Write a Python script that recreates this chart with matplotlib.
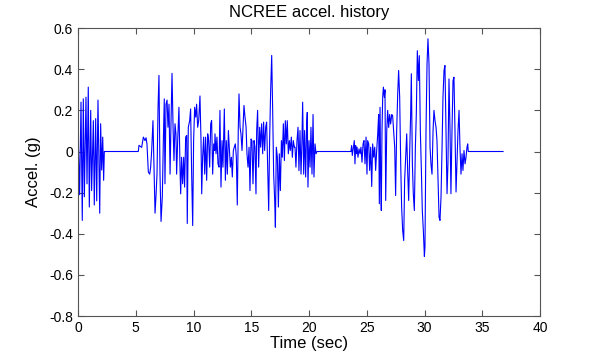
import numpy as np
import matplotlib.pyplot as plt

plt.rcParams['font.family'] = ['Liberation Sans', 'DejaVu Sans']

# first burst (0 - 2.3 s)
t1 = [0, 0.03, 0.14, 0.26, 0.37, 0.46, 0.55, 0.69, 0.78, 0.89, 0.98, 1.10, 1.18,
      1.33, 1.41, 1.53, 1.62, 1.73, 1.88, 1.96, 2.05, 2.14, 2.22, 2.28]
a1 = [0, 0.045, -0.21, 0.24, -0.335, 0.256, -0.22, 0.264, -0.157, 0.313, -0.27, 0.2, -0.19,
      0.15, -0.26, 0.16, -0.24, 0.25, -0.30, 0.135, -0.09, 0.07, -0.14, 0]

# second burst (5.2 - 20.7 s)
t2 = [5.22, 5.28, 5.51, 5.66, 5.80, 5.89, 5.97, 6.09, 6.21, 6.29, 6.38, 6.49, 6.67, 6.75,
      6.84, 6.93, 7.01, 7.10, 7.19, 7.30, 7.39, 7.47, 7.53, 7.62, 7.71, 7.79, 7.88, 7.97,
      8.05, 8.14, 8.23, 8.31, 8.40,
      8.48, 8.54, 8.63, 8.74, 8.83, 8.89, 8.97, 9.06, 9.15, 9.23, 9.32, 9.41, 9.46, 9.55,
      9.67, 9.75, 9.84, 9.93, 10.01, 10.10, 10.19, 10.27, 10.36, 10.45, 10.56, 10.65, 10.71,
      10.79, 10.88, 10.97, 11.05, 11.14, 11.23, 11.31, 11.40, 11.49, 11.57, 11.66, 11.75, 11.83,
      11.86, 11.95, 12.03, 12.12, 12.21, 12.29, 12.38, 12.47, 12.55, 12.67, 12.76, 12.84, 12.93,
      13.02, 13.10, 13.19, 13.28, 13.36, 13.45, 13.53, 13.62, 13.71, 13.79, 13.88, 13.94, 14.03,
      14.11, 14.20, 14.29, 14.37, 14.46, 14.55, 14.63, 14.72, 14.81, 14.89, 14.98, 15.06, 15.15,
      15.24, 15.32,
      15.41, 15.47, 15.55, 15.64, 15.73, 15.81, 15.90, 15.99, 16.07, 16.16, 16.25, 16.33, 16.42,
      16.51, 16.59, 16.68, 16.77, 16.85, 16.94, 17.03, 17.09, 17.17, 17.26, 17.35, 17.43, 17.52,
      17.61, 17.69, 17.78, 17.87, 17.95, 18.04, 18.12, 18.21, 18.30, 18.38, 18.47, 18.56, 18.64,
      18.73,
      18.79, 18.87, 18.96, 19.05, 19.13, 19.22, 19.31, 19.39, 19.45, 19.54, 19.62, 19.71, 19.80,
      19.85, 19.91, 20.00, 20.09, 20.17, 20.26, 20.35, 20.43, 20.52, 20.61, 20.69]
a2 = [0, 0.03, 0.02, 0.07, 0.053, 0.067, 0.037, -0.10, -0.11, -0.076, 0.005, 0.15, -0.30, -0.22,
      -0.11, 0.215, 0.37, -0.11, -0.34, -0.22, 0.053, 0.256, -0.157, 0.23, 0.25, 0.118, 0.23, -0.11,
      0.135, 0.38, 0.118, -0.044, 0.135,
      0.086, -0.11, 0.053, 0.215, -0.076, -0.206, -0.028, -0.157, -0.028, -0.173, 0.07, 0.078, -0.35, 0.118,
      0.15, 0.207, -0.11, -0.36, 0.053, 0.215, 0.167, 0.23, 0.118, 0.15, 0.27, 0.053, -0.206,
      -0.028, 0.07, -0.11, 0.07, -0.14, 0.086, 0.053, -0.076, 0.135, 0.15, -0.11, 0.037, 0.005,
      0.086, -0.011, 0.07, -0.06, -0.076, 0.2, -0.173, 0.053, -0.076, 0.207, -0.14, 0.053, -0.11,
      0.102, 0.021, -0.076, -0.028, -0.124, 0.005, 0.021, 0.037, -0.028, -0.26, 0.118, 0.28, 0.118,
      0.086, 0.005, 0.118, 0.224, 0.167, 0.12, -0.011, -0.076, 0.021, -0.19, 0.061, 0.053, -0.157,
      0.053, 0.021,
      -0.206, 0.102, 0.2, -0.076, 0.118, 0.021, 0.135, -0.011, 0.143, 0.005, 0.118, 0.143, -0.076,
      -0.287, 0.053, 0.297, 0.467, 0.215, -0.11, -0.238, -0.368, 0.021, -0.028, -0.27, -0.011, -0.19,
      0.053, -0.028, 0.135, -0.044, 0.15, 0.037, 0.15, -0.011, 0.053, 0.005, 0.07, -0.028, 0.053,
      0.021,
      0.021, -0.076, 0.053, 0.118, -0.093, 0.102, -0.11, 0.053, 0.24, -0.11, 0.102, -0.124, 0.135,
      0.19, -0.173, 0.053, -0.076, 0.118, -0.11, 0.18, -0.124, 0.037, -0.011, 0]

# third burst (23.6 - 33.8 s)
t3 = [23.63, 23.69, 23.75, 23.84, 23.92, 23.98, 24.04, 24.10, 24.16, 24.24, 24.33, 24.42, 24.50,
      24.59, 24.68, 24.76, 24.85, 24.94, 25.02, 25.08, 25.17, 25.25, 25.34, 25.43, 25.51, 25.60,
      25.69, 25.77, 25.86, 25.95, 26.03, 26.09, 26.15, 26.21, 26.26, 26.32, 26.38, 26.44, 26.52,
      26.58, 26.64, 26.73, 26.81, 26.90, 26.98, 27.07, 27.16, 27.24, 27.33, 27.42, 27.50, 27.59,
      27.68, 27.76, 27.85, 27.94, 28.02, 28.11, 28.20, 28.28, 28.37, 28.46, 28.54, 28.63, 28.72,
      28.80, 28.86, 28.95, 29.03, 29.12, 29.21, 29.29, 29.38, 29.47, 29.55, 29.64, 29.73, 29.81,
      29.90, 29.99,
      30.04, 30.13, 30.22, 30.30, 30.39, 30.48, 30.56, 30.65, 30.74, 30.82, 30.91, 31.00, 31.08,
      31.17, 31.26, 31.34, 31.43, 31.52, 31.60, 31.69, 31.77, 31.86, 31.95, 32.03, 32.12, 32.21,
      32.29, 32.38, 32.47, 32.55, 32.64, 32.73, 32.81, 32.90, 32.99, 33.07, 33.16, 33.25, 33.33,
      33.42, 33.51, 33.59, 33.68, 33.74, 33.79]
a3 = [0, 0.029, -0.019, 0.021, 0.053, -0.06, 0.029, -0.011, 0.021, -0.028, 0.013, -0.011, 0.021,
      -0.052, 0.037, 0.053, -0.06, 0.07, -0.11, 0.053, 0.037, -0.092, 0.021, -0.17, 0.037, -0.028,
      0.021, -0.092, 0.005, 0.086, 0.18, -0.254, 0.215, -0.141, -0.287, 0.10, 0.264, 0.313, 0.264,
      0.30, -0.238, 0.10, 0.2, 0.117, 0.18, 0.134, 0.18, 0.175, 0.10, 0.021, -0.214, 0.10,
      0.28, 0.394, 0.264, -0.06, -0.27, -0.384, -0.433, -0.141, -0.028, 0.086, -0.092, -0.238, 0.005,
      0.18, 0.378, -0.06, -0.205, -0.287, 0.021, 0.18, 0.49, 0.345, 0.466, 0.10, -0.092, -0.287,
      -0.384, -0.51,
      -0.465, 0.10, 0.426, 0.548, 0.426, 0.021, -0.06, -0.11, 0.10, 0.2, 0.15, 0.117, 0.053,
      -0.141, -0.319, -0.335, -0.222, 0.021, 0.264, 0.394, 0.418, 0.10, -0.205, -0.06, 0.353, 0.10,
      -0.205, 0.10, 0.345, 0.361, 0.10, -0.197, -0.06, 0.10, 0.2, 0.021, -0.11, -0.011, -0.092,
      0.005, -0.06, -0.03, 0.021, 0.037, 0]

t_end = 36.8

time = np.concatenate([t1, t2, t3, [t_end]])
accel = np.concatenate([a1, a2, a3, [0]])

fig = plt.figure(figsize=(6, 3.6), dpi=100)
ax = fig.add_axes([0.13, 0.122, 0.77, 0.8])
ax.plot(time, accel, color='#0000ff', linewidth=0.8)

ax.set_xlim(0, 40)
ax.set_ylim(-0.8, 0.6)
ax.set_xticks(np.arange(0, 41, 5))
ax.set_yticks(np.arange(-0.8, 0.61, 0.2))
ax.set_yticklabels(['-0.8', '-0.6', '-0.4', '-0.2', '0', '0.2', '0.4', '0.6'])
ax.tick_params(direction='in', top=True, right=True, labelsize=10, length=4,
               color='#555555', width=0.8)
for s in ax.spines.values():
    s.set_color('#555555')
    s.set_linewidth(0.8)

ax.set_title('NCREE accel. history', fontsize=12, pad=8)
ax.set_xlabel('Time (sec)', fontsize=12, labelpad=1)
ax.set_ylabel('Accel. (g)', fontsize=12, labelpad=6)

fig.savefig('out.png', dpi=100)
